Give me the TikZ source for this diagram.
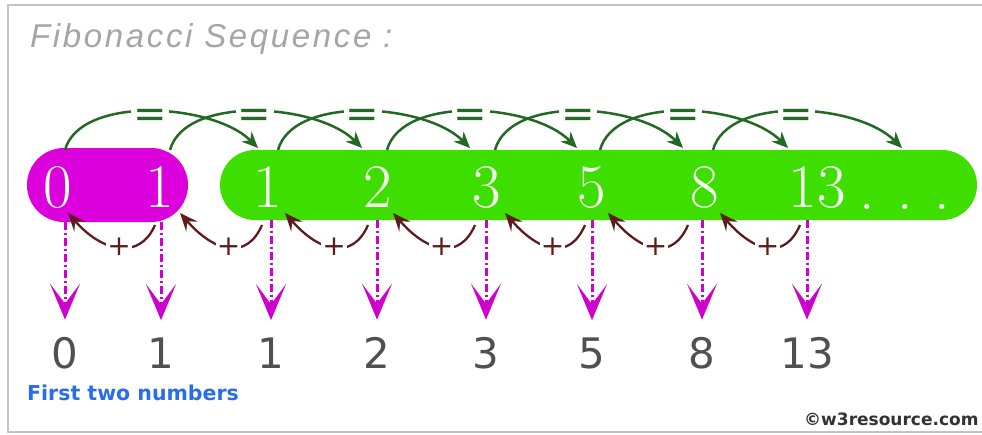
\documentclass[tikz,border=0pt]{standalone}
\usepackage{fontspec}
\usetikzlibrary{arrows.meta,calc}
\newfontfamily\titlef[LetterSpace=8]{Liberation Sans}
\newfontfamily\dvs{DejaVu Sans}
\definecolor{magpill}{RGB}{220,0,220}
\definecolor{grnpill}{RGB}{62,222,0}
\definecolor{magline}{RGB}{205,0,205}
\definecolor{eqgreen}{RGB}{35,105,35}
\definecolor{plusbrown}{RGB}{95,28,28}
\definecolor{titlegray}{RGB}{165,165,165}
\definecolor{numgray}{RGB}{80,80,80}
\definecolor{firstblue}{RGB}{40,110,235}
\definecolor{framegray}{RGB}{195,195,195}
\definecolor{digwhite}{RGB}{245,255,240}
\begin{document}
\begin{tikzpicture}[x=1pt,y=-1pt,
  pill/.style={draw=none, inner sep=0pt},
  pdig/.style={anchor=base, inner sep=0pt, text=digwhite, font=\fontsize{62}{62}\selectfont},
  bdig/.style={anchor=base, inner sep=0pt, text=numgray, font=\dvs\fontsize{42}{42}\selectfont},
  eqarc/.style={draw=eqgreen, line width=2.5pt, -{Stealth[length=16pt,width=14pt,inset=5pt]}},
  eqsign/.style={fill=white, text=eqgreen, inner xsep=2pt, inner ysep=0pt, yshift=-7pt, font=\dvs\fontsize{40}{40}\selectfont},
  plusarc/.style={draw=plusbrown, line width=2.3pt, -{Stealth[length=18pt,width=15pt,inset=7pt]}},
  plussign/.style={fill=white, text=plusbrown, inner sep=1pt, font=\dvs\fontsize{28}{28}\selectfont},
  downarr/.style={draw=magline, line width=3pt, dash pattern=on 8pt off 3pt on 2pt off 3pt, -{Stealth[length=36pt,width=30pt,inset=20pt]}},
]
\useasboundingbox (0,0) rectangle (982,434);
\fill[white] (0,0) rectangle (982,434);
\draw[framegray, line width=2.5pt] (8,5) rectangle (1000,432);

\node[anchor=base west, inner sep=0pt, text=titlegray, font=\titlef\itshape\fontsize{33}{33}\selectfont] (title) at (30,47) {Fibonacci Sequence :};

% pills
\node[pill, fill=magpill, minimum width=161pt, minimum height=74pt, rounded corners=36.9pt] (mag) at (107.5,185) {};
\node[pill, fill=grnpill, minimum width=757pt, minimum height=70pt, rounded corners=34.9pt] (grn) at (598.5,185) {};

% digits in pills
\node[pdig] (p0) at (58,207) {0};
\node[pdig] (p1) at (160,207) {1};
\node[pdig] (p2) at (268,207) {1};
\node[pdig] (p3) at (378,207) {2};
\node[pdig] (p4) at (487,207) {3};
\node[pdig] (p5) at (592,207) {5};
\node[pdig] (p6) at (705,207) {8};
\node[pdig] (p7) at (817,207) {13};
\node[pdig] (pd) at (905,209) {.\hspace{22pt}.\hspace{22pt}.};

% green "=" arcs
\draw[eqarc] ([shift={(7,-57)}]p0.base) .. controls +(15,-55) and +(-45,-45) .. ([shift={(-10,-59)}]p2.base) node[pos=0.5,eqsign] {=};
\draw[eqarc] ([shift={(10,-57)}]p1.base) .. controls +(15,-55) and +(-45,-45) .. ([shift={(-16,-59)}]p3.base) node[pos=0.5,eqsign] {=};
\draw[eqarc] ([shift={(10,-57)}]p2.base) .. controls +(15,-55) and +(-45,-45) .. ([shift={(-17,-59)}]p4.base) node[pos=0.5,eqsign] {=};
\draw[eqarc] ([shift={(9,-57)}]p3.base) .. controls +(15,-55) and +(-45,-45) .. ([shift={(-15,-59)}]p5.base) node[pos=0.5,eqsign] {=};
\draw[eqarc] ([shift={(8,-57)}]p4.base) .. controls +(15,-55) and +(-45,-45) .. ([shift={(-22,-59)}]p6.base) node[pos=0.5,eqsign] {=};
\draw[eqarc] ([shift={(8,-57)}]p5.base) .. controls +(15,-55) and +(-45,-45) .. ([shift={(-29,-59)}]p7.base) node[pos=0.5,eqsign] {=};
\draw[eqarc] ([shift={(8,-57)}]p6.base) .. controls +(15,-55) and +(-45,-45) .. ([shift={(-3,-61)}]pd.base) node[pos=0.5,eqsign] {=};

% brown "+" arcs
\draw[plusarc] ([shift={(-5,18)}]p1.base) .. controls +(-15,35) and +(35,40) .. ([shift={(10,6)}]p0.base) node[pos=0.5,plussign] {+};
\draw[plusarc] ([shift={(-6,18)}]p2.base) .. controls +(-15,35) and +(35,40) .. ([shift={(20,6)}]p1.base) node[pos=0.5,plussign] {+};
\draw[plusarc] ([shift={(-10,18)}]p3.base) .. controls +(-15,35) and +(35,40) .. ([shift={(17,6)}]p2.base) node[pos=0.5,plussign] {+};
\draw[plusarc] ([shift={(-12,18)}]p4.base) .. controls +(-15,35) and +(35,40) .. ([shift={(15,6)}]p3.base) node[pos=0.5,plussign] {+};
\draw[plusarc] ([shift={(-7,18)}]p5.base) .. controls +(-15,35) and +(35,40) .. ([shift={(18,6)}]p4.base) node[pos=0.5,plussign] {+};
\draw[plusarc] ([shift={(-17,18)}]p6.base) .. controls +(-15,35) and +(35,40) .. ([shift={(16,6)}]p5.base) node[pos=0.5,plussign] {+};
\draw[plusarc] ([shift={(-17,18)}]p7.base) .. controls +(-15,35) and +(35,40) .. ([shift={(15,6)}]p6.base) node[pos=0.5,plussign] {+};

% bottom numbers
\node[bdig] (b0) at (65,368) {0};
\node[bdig] (b1) at (161,368) {1};
\node[bdig] (b2) at (271,368) {1};
\node[bdig] (b3) at (377,368) {2};
\node[bdig] (b4) at (486,368) {3};
\node[bdig] (b5) at (592,368) {5};
\node[bdig] (b6) at (702,368) {8};
\node[bdig] (b7) at (807,368) {13};

% magenta down arrows
\draw[downarr] (b0 |- mag.south) -- ([yshift=17pt]b0.north);
\draw[downarr] (b1 |- mag.south) -- ([yshift=17pt]b1.north);
\draw[downarr] (b2 |- grn.south) -- ([yshift=17pt]b2.north);
\draw[downarr] (b3 |- grn.south) -- ([yshift=17pt]b3.north);
\draw[downarr] (b4 |- grn.south) -- ([yshift=17pt]b4.north);
\draw[downarr] (b5 |- grn.south) -- ([yshift=17pt]b5.north);
\draw[downarr] (b6 |- grn.south) -- ([yshift=17pt]b6.north);
\draw[downarr] (b7 |- grn.south) -- ([yshift=17pt]b7.north);

\node[anchor=base west, inner sep=0pt, text=firstblue, font=\dvs\bfseries\fontsize{20.5}{20.5}\selectfont] (first) at (27,400) {First two numbers};
\node[anchor=base west, inner sep=0pt, text=black!80, font=\dvs\bfseries\fontsize{17}{17}\selectfont] (copy) at (804,425) {©w3resource.com};
\end{tikzpicture}
\end{document}
